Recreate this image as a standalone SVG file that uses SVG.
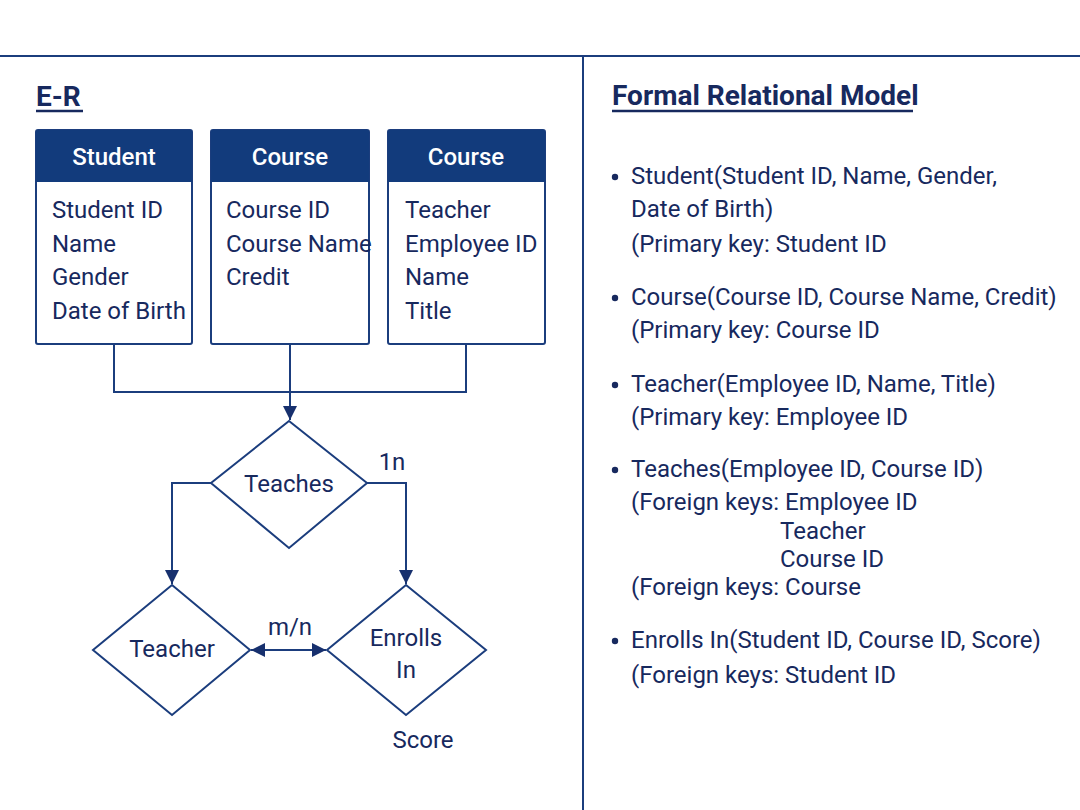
<svg xmlns="http://www.w3.org/2000/svg" width="1080" height="810" viewBox="0 0 1080 810">
<defs>
<style>
.t{font-family:Roboto,"Liberation Sans",sans-serif;fill:#17295e;font-size:24px}
.h{font-family:Roboto,"Liberation Sans",sans-serif;fill:#ffffff;font-size:24px;font-weight:500}
.ttl{font-family:Roboto,"Liberation Sans",sans-serif;fill:#17295e;font-size:28px;font-weight:700}
.box{fill:#ffffff;stroke:#1b3d7d;stroke-width:2}
.hdr{fill:#123b7c}
.ln{fill:none;stroke:#1b3d7d;stroke-width:2}
.dia{fill:#ffffff;stroke:#1b3d7d;stroke-width:2}
</style>
<marker id="ah2" viewBox="0 0 10 10" refX="10" refY="5" markerWidth="14" markerHeight="14" orient="auto-start-reverse" markerUnits="userSpaceOnUse">
<path d="M0,0 L10,5 L0,10 z" fill="#17306e"/>
</marker>
</defs>
<rect width="1080" height="810" fill="#ffffff"/>
<line x1="0" y1="56" x2="1080" y2="56" class="ln"/>
<line x1="583" y1="56" x2="583" y2="810" class="ln"/>

<g id="er-title">
<text x="36" y="106" class="ttl">E-R</text>
<line x1="36" y1="111" x2="83" y2="111" stroke="#17295e" stroke-width="2.5"/>
</g>

<g id="student">
<rect x="36" y="130" width="156" height="214" rx="2" class="box"/>
<path d="M36,132 a2,2 0 0 1 2,-2 h152 a2,2 0 0 1 2,2 v50 h-156 z" class="hdr"/>
<text x="114" y="165" class="h" text-anchor="middle">Student</text>
<text x="52" y="218" class="t">Student ID</text>
<text x="52" y="252" class="t">Name</text>
<text x="52" y="285" class="t">Gender</text>
<text x="52" y="319" class="t">Date of Birth</text>
</g>

<g id="course">
<rect x="211" y="130" width="158" height="214" rx="2" class="box"/>
<path d="M211,132 a2,2 0 0 1 2,-2 h154 a2,2 0 0 1 2,2 v50 h-158 z" class="hdr"/>
<text x="290" y="165" class="h" text-anchor="middle">Course</text>
<text x="226" y="218" class="t">Course ID</text>
<text x="226" y="252" class="t">Course Name</text>
<text x="226" y="285" class="t">Credit</text>
</g>

<g id="course2">
<rect x="388" y="130" width="157" height="214" rx="2" class="box"/>
<path d="M388,132 a2,2 0 0 1 2,-2 h153 a2,2 0 0 1 2,2 v50 h-157 z" class="hdr"/>
<text x="466" y="165" class="h" text-anchor="middle">Course</text>
<text x="405" y="218" class="t">Teacher</text>
<text x="405" y="252" class="t">Employee ID</text>
<text x="405" y="285" class="t">Name</text>
<text x="405" y="319" class="t">Title</text>
</g>

<g id="teaches">
<polygon points="289,421 367,483 289,548 211,483" class="dia"/>
<text x="289" y="492" class="t" text-anchor="middle">Teaches</text>
</g>

<g id="teacher">
<polygon points="172,585 250,650 172,715 93,650" class="dia"/>
<text x="172" y="657" class="t" text-anchor="middle">Teacher</text>
</g>

<g id="enrolls">
<polygon points="406,585 486,650 406,715 327,650" class="dia"/>
<text x="406" y="646" class="t" text-anchor="middle">Enrolls</text>
<text x="406" y="678" class="t" text-anchor="middle">In</text>
</g>

<g id="connectors">
<polyline points="114,344 114,392 466,392 466,344" class="ln"/>
<line x1="290" y1="344" x2="290" y2="420" class="ln" marker-end="url(#ah2)"/>
<polyline points="211,483 172,483 172,584" class="ln" marker-end="url(#ah2)"/>
<polyline points="367,483 406,483 406,584" class="ln" marker-end="url(#ah2)"/>
<line x1="251" y1="650" x2="326" y2="650" class="ln" marker-start="url(#ah2)" marker-end="url(#ah2)"/>
<text x="392" y="470" class="t" text-anchor="middle">1n</text>
<text x="290" y="635" class="t" text-anchor="middle">m/n</text>
<text x="423" y="748" class="t" text-anchor="middle">Score</text>
</g>

<g id="relational">
<text x="612" y="105" class="ttl">Formal Relational Model</text>
<line x1="612" y1="111" x2="913" y2="111" stroke="#17295e" stroke-width="2.5"/>
<g fill="#17295e">
<circle cx="615" cy="177" r="3.2"/>
<circle cx="615" cy="298" r="3.2"/>
<circle cx="615" cy="385" r="3.2"/>
<circle cx="615" cy="470" r="3.2"/>
<circle cx="615" cy="641" r="3.2"/>
</g>
<text x="631" y="184" class="t">Student(Student ID, Name, Gender,</text>
<text x="631" y="217" class="t">Date of Birth)</text>
<text x="631" y="252" class="t">(Primary key: Student ID</text>
<text x="631" y="305" class="t">Course(Course ID, Course Name, Credit)</text>
<text x="631" y="338" class="t">(Primary key: Course ID</text>
<text x="631" y="392" class="t">Teacher(Employee ID, Name, Title)</text>
<text x="631" y="425" class="t">(Primary key: Employee ID</text>
<text x="631" y="477" class="t">Teaches(Employee ID, Course ID)</text>
<text x="631" y="510" class="t">(Foreign keys: Employee ID</text>
<text x="780" y="539" class="t">Teacher</text>
<text x="780" y="567" class="t">Course ID</text>
<text x="631" y="595" class="t">(Foreign keys: Course</text>
<text x="631" y="648" class="t">Enrolls In(Student ID, Course ID, Score)</text>
<text x="631" y="683" class="t">(Foreign keys: Student ID</text>
</g>
</svg>
